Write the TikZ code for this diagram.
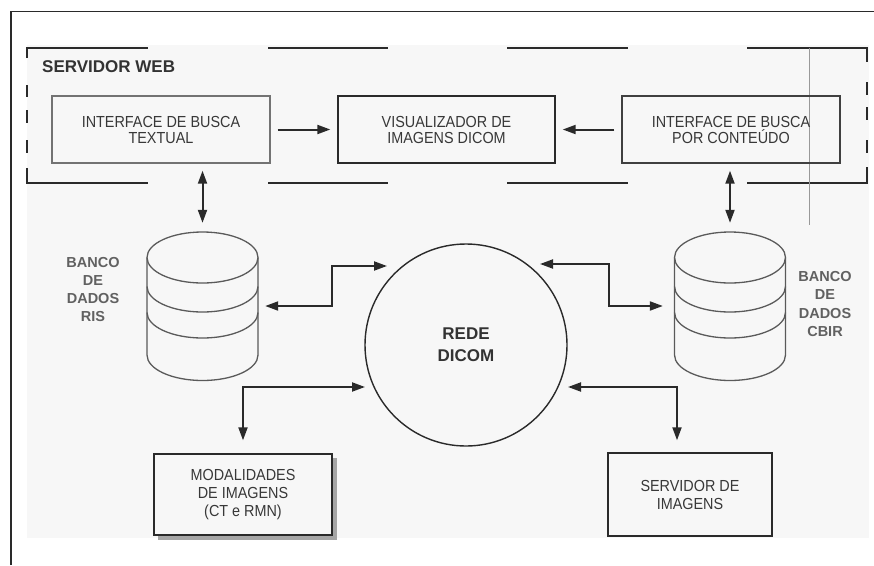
\documentclass[tikz,border=0pt]{standalone}
\usepackage{fontspec}
\setmainfont{Liberation Sans}
\newfontfamily\narrowfont[FakeStretch=0.9]{Liberation Sans}
\usetikzlibrary{arrows.meta,calc}
\definecolor{ink}{HTML}{2A2A2A}
\definecolor{txt}{HTML}{383838}
\definecolor{cyl}{HTML}{5A5A5A}
\definecolor{bg}{HTML}{F7F7F7}
\begin{document}
\begin{tikzpicture}[x=1pt,y=-1pt,
  frame/.style={draw=ink,line width=1.3pt},
  webdash/.style={draw=ink,line width=2pt},
  box/.style={draw=ink,line width=1.4pt,inner sep=0pt,align=center,text=txt,
    font=\narrowfont\fontsize{16}{16}\selectfont},
  lowbox/.style={box,fill=bg,font=\narrowfont\fontsize{16}{18}\selectfont},
  dbtext/.style={align=center,text=black!62,inner sep=0pt,
    font=\bfseries\fontsize{14.5}{18.3}\selectfont},
  dbshape/.style={draw=cyl,line width=1.3pt},
  conn/.style={draw=ink,line width=2pt,
    {Triangle[length=13pt,width=9pt]}-{Triangle[length=13pt,width=9pt]}},
  oneway/.style={draw=ink,line width=2pt,-{Triangle[length=13pt,width=9pt]}}
]
\useasboundingbox (0,0) rectangle (874,565);
\fill[white] (0,0) rectangle (874,565);
\fill[bg] (27,45) rectangle (869,538);

% outer frame
\draw[frame] (11,565) -- (11,11.5) -- (874,11.5);

% dashed web server box
\draw[webdash] (27,58) -- (27,48) -- (148,48);
\draw[webdash] (27,168) -- (27,183) -- (148,183);
\draw[webdash] (747,48) -- (867,48) -- (867,62);
\draw[webdash] (747,183) -- (867,183) -- (867,167);
\foreach \a/\b in {268/388,507/628}{
  \draw[webdash] (\a,48) -- (\b,48);
  \draw[webdash] (\a,183) -- (\b,183);
}
\foreach \a/\b in {85/97,110/123,140/153}{
  \draw[webdash] (27,\a) -- (27,\b);
}
\foreach \a/\b in {82/95,107/120,140/153}{
  \draw[webdash] (867,\a) -- (867,\b);
}
\node[anchor=base west,inner sep=0pt,text=black!80,font=\bfseries\fontsize{17}{17}\selectfont] (web) at (42,72) {SERVIDOR WEB};

% thin scan line
\draw[black!40,line width=0.7pt] (809,48) -- (809,225);

% top boxes
\node[box,draw=black!55,minimum width=218pt,minimum height=67pt] (itb) at (161,129.5) {INTERFACE DE BUSCA\\TEXTUAL};
\node[box,minimum width=217pt,minimum height=67pt] (vis) at (446.5,129.5) {VISUALIZADOR DE\\IMAGENS DICOM};
\node[box,draw=black!75,minimum width=218pt,minimum height=67pt] (icb) at (731,129.5) {INTERFACE DE BUSCA\\POR CONTEÚDO};

% databases
\node[minimum width=111pt,minimum height=148pt,inner sep=0pt] (ris) at (202.5,306) {};
\node[minimum width=111pt,minimum height=148pt,inner sep=0pt] (cbir) at (730,306) {};
\foreach \cx in {202.5,730}{
  \draw[dbshape] (\cx,257.5) ellipse[x radius=55.5,y radius=25.5];
  \draw[dbshape] (\cx-55.5,257.5) -- (\cx-55.5,355)
     arc[start angle=180,end angle=0,x radius=55.5,y radius=25.5] -- (\cx+55.5,257.5);
  \draw[dbshape] (\cx-55.5,286.5) arc[start angle=180,end angle=0,x radius=55.5,y radius=25.5];
  \draw[dbshape] (\cx-55.5,312.5) arc[start angle=180,end angle=0,x radius=55.5,y radius=25.5];
}
\node[dbtext] (rislbl) at (93,289.5) {BANCO\\DE\\DADOS\\RIS};
\node[dbtext] (cbirlbl) at (825,304) {BANCO\\DE\\DADOS\\CBIR};

% DICOM network
\node[circle,draw=ink,line width=1.4pt,minimum size=202pt,inner sep=0pt,align=center,
  text=black!80,font=\bfseries\fontsize{17}{22}\selectfont] (rede) at (466,345) {REDE\\DICOM};

% bottom boxes
\fill[black!35] (158,458) rectangle (337,540);
\node[lowbox,minimum width=178pt,minimum height=81pt] (mod) at (243,494.5) {MODALIDADES\\DE IMAGENS\\(CT e RMN)};
\node[lowbox,minimum width=164pt,minimum height=83pt] (srv) at (690,494.5) {SERVIDOR DE\\IMAGENS};

% connectors
\draw[oneway,shorten <=7pt,shorten >=7pt] (itb.east) -- (vis.west);
\draw[oneway,shorten <=7pt,shorten >=7pt] (icb.west) -- (vis.east);
\draw[conn,shorten <=7pt,shorten >=9pt] (ris.north |- itb.south) -- (ris.north);
\draw[conn,shorten <=7pt,shorten >=9pt] (cbir.north |- icb.south) -- (cbir.north);

\coordinate (r1) at (387,266);
\coordinate (e1) at (332,306);
\coordinate (e2) at (332,266);
\draw[conn,shorten <=7pt] (ris.east) -- (e1) -- (e2) -- (r1);

\coordinate (c1) at (540,264);
\coordinate (e3) at (609,264);
\coordinate (e4) at (609,306);
\draw[conn,shorten >=11.5pt] (c1) -- (e3) -- (e4) -- (cbir.west);

\coordinate (m1) at (365,387);
\coordinate (e5) at (243,387);
\draw[conn,shorten >=13pt] (m1) -- (e5) -- (mod.north);

\coordinate (s1) at (568,387);
\coordinate (e6) at (677,387);
\draw[conn,shorten >=12pt] (s1) -- (e6) -- (e6 |- srv.north);
\end{tikzpicture}
\end{document}
